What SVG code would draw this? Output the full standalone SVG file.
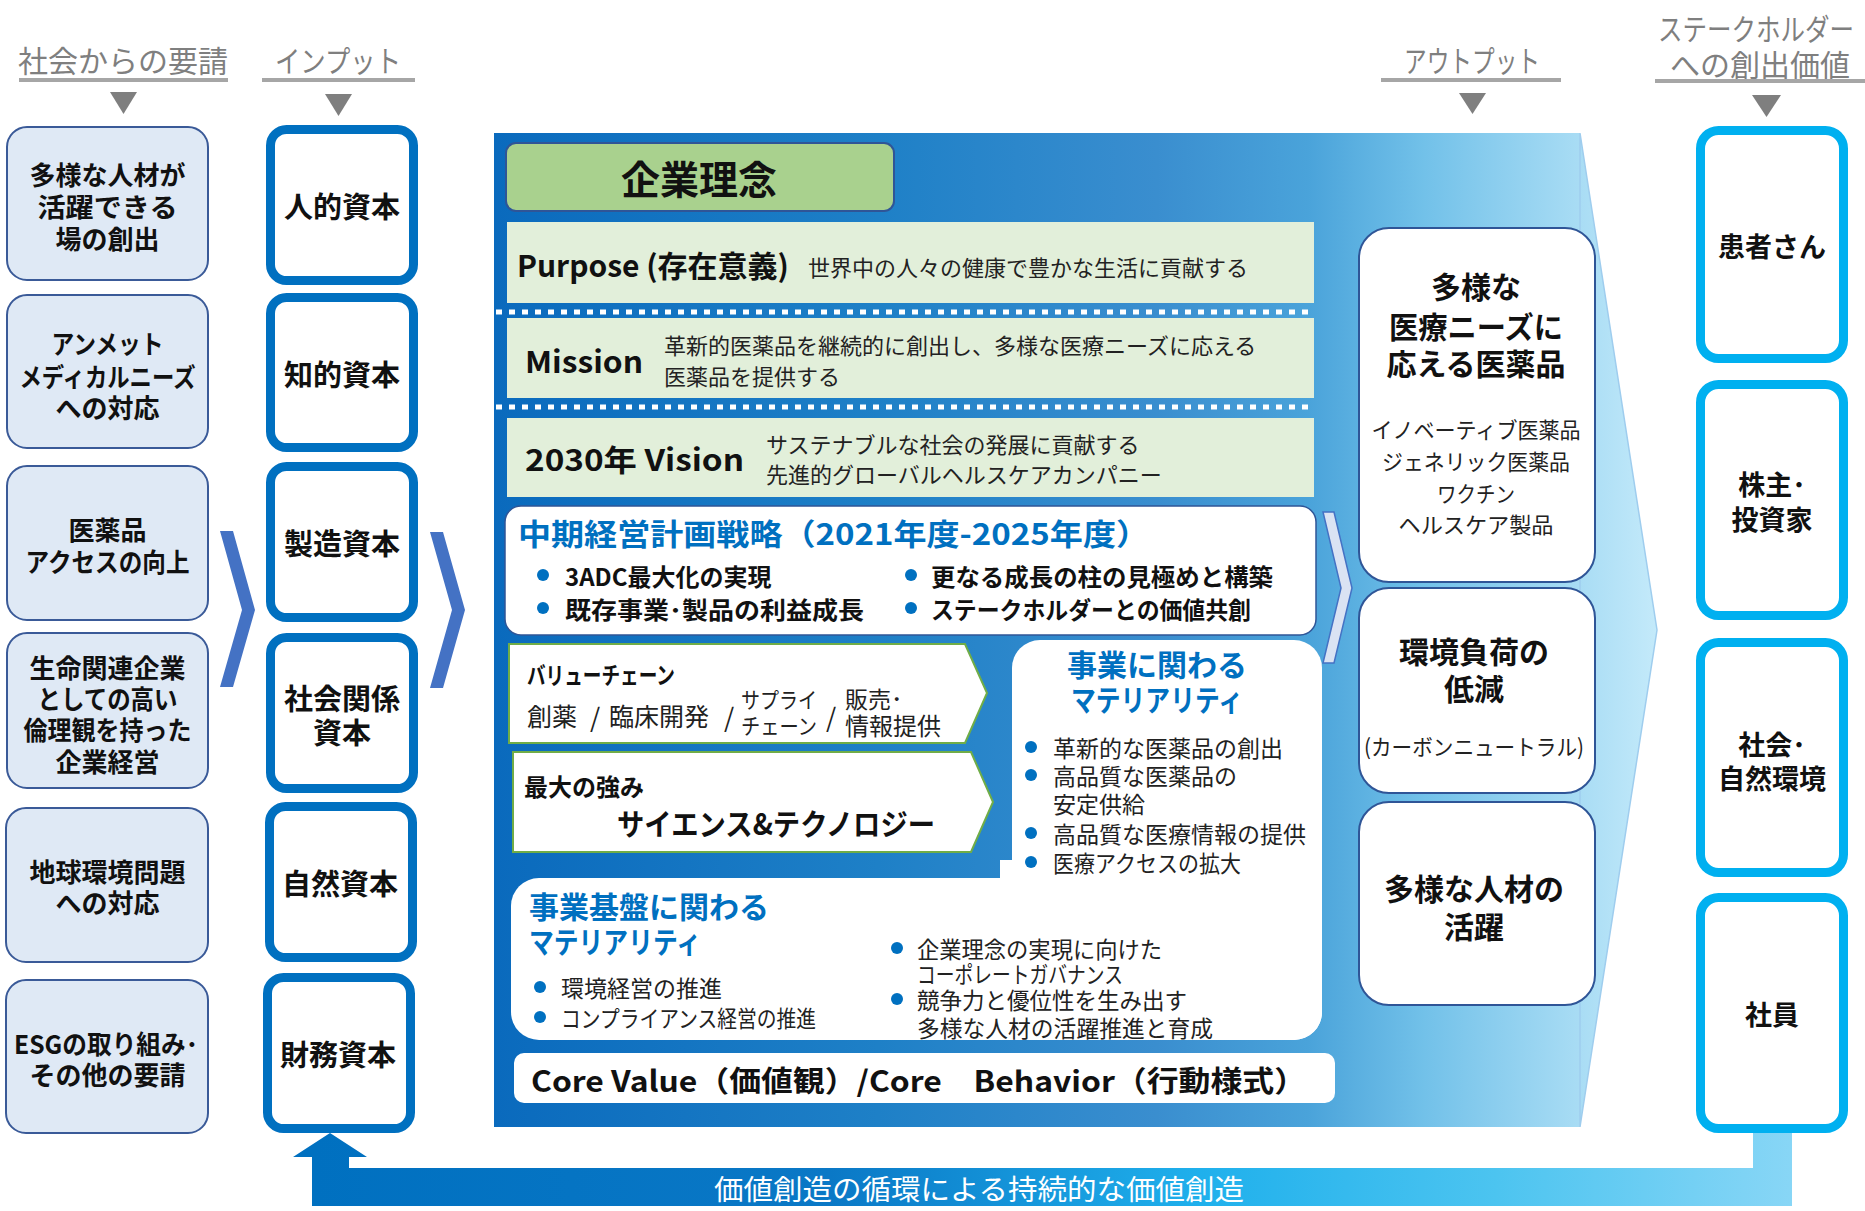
<svg xmlns="http://www.w3.org/2000/svg" width="1865" height="1211" viewBox="0 0 1865 1211">
<defs>
<linearGradient id="mainGrad" gradientUnits="userSpaceOnUse" x1="494" y1="0" x2="1657" y2="0">
<stop offset="0" stop-color="#0a6abd"/>
<stop offset="0.33" stop-color="#1e80c7"/>
<stop offset="0.57" stop-color="#3a8ecf"/>
<stop offset="0.7" stop-color="#4aa3da"/>
<stop offset="0.8" stop-color="#72c1e9"/>
<stop offset="1" stop-color="#c4eafa"/>
</linearGradient>
<linearGradient id="loopGrad" gradientUnits="userSpaceOnUse" x1="312" y1="0" x2="1792" y2="0">
<stop offset="0" stop-color="#0070c0"/>
<stop offset="0.35" stop-color="#0a78c6"/>
<stop offset="0.6" stop-color="#1fb0ec"/>
<stop offset="0.8" stop-color="#4cc4f0"/>
<stop offset="1" stop-color="#88d6f6"/>
</linearGradient>
<style>
text{font-family:"Noto Sans CJK JP","Noto Sans",sans-serif;dominant-baseline:central}
.hdr{font-size:30px;fill:#7f7f7f;text-anchor:middle}
.uline{stroke:#a6a6a6;stroke-width:4}
.tri{fill:#7f7f7f}
.req{fill:#dfe9f5;stroke:#3a5a98;stroke-width:2}
.reqt{font-size:26px;font-weight:bold;fill:#111;text-anchor:middle}
.inp{fill:#fff;stroke:#0070c0;stroke-width:9}
.inpt{font-size:29px;font-weight:bold;fill:#111;text-anchor:middle}
.stk{fill:#fff;stroke:#00b0f0;stroke-width:9}
.stkt{font-size:27px;font-weight:bold;fill:#111;text-anchor:middle}
.out{fill:#fff;stroke:#2f5597;stroke-width:2}
.outt{font-size:30px;font-weight:bold;fill:#111;text-anchor:middle}
.outs{font-size:22px;fill:#222;text-anchor:middle}
.band{fill:#e2efda}
.dots{stroke:#fff;stroke-width:5;stroke-dasharray:6 7}
.lbl{font-size:30px;font-weight:bold;fill:#111}
.desc{font-size:22px;fill:#222}
.blueT{font-size:30px;font-weight:bold;fill:#0070c0}
.bul{fill:#0070c0}
.bt{font-size:24px;font-weight:bold;fill:#111}
.mt{font-size:23px;fill:#222}
.gar{fill:#fff;stroke:#70ad47;stroke-width:2}
.chev{fill:#4472c4}
</style>
</defs>

<!-- headers -->
<g id="headers">
<text class="hdr" x="123" y="59">社会からの要請</text>
<line class="uline" x1="19" y1="80" x2="228" y2="80"/>
<polygon class="tri" points="110,92 137,92 123.5,114"/>
<text class="hdr" x="338" y="59" textLength="126" lengthAdjust="spacingAndGlyphs">インプット</text>
<line class="uline" x1="262" y1="80" x2="415" y2="80"/>
<polygon class="tri" points="325,94 352,94 338.5,116"/>
<text class="hdr" x="1472" y="59" textLength="136" lengthAdjust="spacingAndGlyphs">アウトプット</text>
<line class="uline" x1="1381" y1="80" x2="1561" y2="80"/>
<polygon class="tri" points="1459,93 1486,93 1472.5,114"/>
<text class="hdr" x="1756" y="27" textLength="196" lengthAdjust="spacingAndGlyphs">ステークホルダー</text>
<text class="hdr" x="1760" y="63">への創出価値</text>
<line class="uline" x1="1655" y1="81" x2="1865" y2="81"/>
<polygon class="tri" points="1752,95 1781,95 1766.5,117"/>
</g>

<!-- society requests -->
<g id="req1"><rect class="req" x="7" y="127" width="201" height="153" rx="20"/>
<text class="reqt" x="107.5" y="173">多様な人材が</text><text class="reqt" x="107.5" y="205" textLength="140" lengthAdjust="spacingAndGlyphs">活躍できる</text><text class="reqt" x="107.5" y="237">場の創出</text></g>
<g id="req2"><rect class="req" x="7" y="295" width="201" height="153" rx="20"/>
<text class="reqt" x="107.5" y="342" textLength="112" lengthAdjust="spacingAndGlyphs">アンメット</text><text class="reqt" x="107.5" y="375" textLength="176" lengthAdjust="spacingAndGlyphs">メディカルニーズ</text><text class="reqt" x="107.5" y="406">への対応</text></g>
<g id="req3"><rect class="req" x="7" y="466" width="201" height="154" rx="20"/>
<text class="reqt" x="107.5" y="528">医薬品</text><text class="reqt" x="107.5" y="560" textLength="164" lengthAdjust="spacingAndGlyphs">アクセスの向上</text></g>
<g id="req4"><rect class="req" x="7" y="633" width="201" height="155" rx="20"/>
<text class="reqt" x="107.5" y="666">生命関連企業</text><text class="reqt" x="107.5" y="697" textLength="140" lengthAdjust="spacingAndGlyphs">としての高い</text><text class="reqt" x="107.5" y="728" textLength="168" lengthAdjust="spacingAndGlyphs">倫理観を持った</text><text class="reqt" x="107.5" y="760">企業経営</text></g>
<g id="req5"><rect class="req" x="6" y="808" width="202" height="154" rx="20"/>
<text class="reqt" x="107.5" y="870">地球環境問題</text><text class="reqt" x="107.5" y="901">への対応</text></g>
<g id="req6"><rect class="req" x="6" y="980" width="202" height="153" rx="20"/>
<text class="reqt" x="106" y="1042" textLength="184" lengthAdjust="spacingAndGlyphs">ESGの取り組み･</text><text class="reqt" x="107.5" y="1073">その他の要請</text></g>

<!-- inputs -->
<g id="in1"><rect class="inp" x="270.5" y="129.5" width="143" height="151" rx="16"/><text class="inpt" x="342" y="205">人的資本</text></g>
<g id="in2"><rect class="inp" x="270.5" y="297.5" width="143" height="150" rx="16"/><text class="inpt" x="342" y="373">知的資本</text></g>
<g id="in3"><rect class="inp" x="270.5" y="466.5" width="143" height="151" rx="16"/><text class="inpt" x="342" y="542">製造資本</text></g>
<g id="in4"><rect class="inp" x="270.5" y="637.5" width="143" height="151" rx="16"/><text class="inpt" x="342" y="697">社会関係</text><text class="inpt" x="342" y="731">資本</text></g>
<g id="in5"><rect class="inp" x="269.5" y="806.5" width="143" height="151" rx="16"/><text class="inpt" x="340" y="882">自然資本</text></g>
<g id="in6"><rect class="inp" x="267.5" y="977.5" width="143" height="151" rx="16"/><text class="inpt" x="338" y="1053">財務資本</text></g>

<!-- main business region -->
<g id="business">
<polygon fill="url(#mainGrad)" points="494,133 1580,133 1657,630 1580,1127 494,1127"/>
<polygon fill="none" stroke="#9fcdee" stroke-width="1.5" points="1580,133 1657,630 1580,1127"/>

<g id="philosophy">
<rect x="506" y="143" width="388" height="68" rx="10" fill="#a9d18e" stroke="#2f5597" stroke-width="2"/>
<text x="699" y="177" font-size="39" font-weight="bold" fill="#111" text-anchor="middle">企業理念</text>
</g>
<g id="purpose">
<rect class="band" x="507" y="222" width="807" height="81"/>
<text class="lbl" x="517" y="264" font-size="29">Purpose (存在意義)</text>
<text class="desc" x="808" y="266">世界中の人々の健康で豊かな生活に貢献する</text>
</g>
<line class="dots" x1="496" y1="312" x2="1314" y2="312"/>
<g id="mission">
<rect class="band" x="507" y="318" width="807" height="80"/>
<text class="lbl" x="525" y="360" textLength="118" lengthAdjust="spacingAndGlyphs">Mission</text>
<text class="desc" x="664" y="344">革新的医薬品を継続的に創出し、多様な医療ニーズに応える</text>
<text class="desc" x="664" y="375">医薬品を提供する</text>
</g>
<line class="dots" x1="496" y1="407" x2="1314" y2="407"/>
<g id="vision">
<rect class="band" x="507" y="418" width="807" height="79"/>
<text class="lbl" x="525" y="458" textLength="219" lengthAdjust="spacingAndGlyphs">2030年 Vision</text>
<text class="desc" x="766" y="443">サステナブルな社会の発展に貢献する</text>
<text class="desc" x="766" y="473">先進的グローバルヘルスケアカンパニー</text>
</g>

<g id="midterm">
<rect x="505" y="506" width="811" height="129" rx="16" fill="#fff" stroke="#2f5597" stroke-width="1.5"/>
<text class="blueT" x="518" y="532" textLength="631" lengthAdjust="spacingAndGlyphs">中期経営計画戦略（2021年度-2025年度）</text>
<circle class="bul" cx="543" cy="575" r="6"/><text class="bt" x="565" y="575">3ADC最大化の実現</text>
<circle class="bul" cx="543" cy="608" r="6"/><text class="bt" x="565" y="608" textLength="299" lengthAdjust="spacingAndGlyphs">既存事業･製品の利益成長</text>
<circle class="bul" cx="911" cy="575" r="6"/><text class="bt" x="931" y="575" textLength="342" lengthAdjust="spacingAndGlyphs">更なる成長の柱の見極めと構築</text>
<circle class="bul" cx="911" cy="608" r="6"/><text class="bt" x="931" y="608" textLength="320" lengthAdjust="spacingAndGlyphs">ステークホルダーとの価値共創</text>
</g>

<g id="valuechain">
<polygon class="gar" points="509,644 965,644 987,693 965,743 509,743"/>
<text x="527" y="673" font-size="24" font-weight="bold" fill="#111" textLength="148" lengthAdjust="spacingAndGlyphs">バリューチェーン</text>
<text x="527" y="715" font-size="25" fill="#222">創薬</text>
<text x="590" y="715" font-size="26" fill="#222">/</text>
<text x="609" y="715" font-size="25" fill="#222">臨床開発</text>
<text x="724" y="715" font-size="26" fill="#222">/</text>
<text x="741" y="698" font-size="22" fill="#222" textLength="76" lengthAdjust="spacingAndGlyphs">サプライ</text>
<text x="741" y="724" font-size="22" fill="#222" textLength="76" lengthAdjust="spacingAndGlyphs">チェーン</text>
<text x="826" y="715" font-size="26" fill="#222">/</text>
<text x="845" y="698" font-size="23" fill="#222">販売･</text>
<text x="845" y="724" font-size="24" fill="#222">情報提供</text>
</g>

<g id="strength">
<polygon class="gar" points="513,752 971,752 993,802 971,852 513,852"/>
<text x="524" y="785" font-size="24" font-weight="bold" fill="#111">最大の強み</text>
<text x="617" y="822" font-size="30" font-weight="bold" fill="#111" textLength="318" lengthAdjust="spacingAndGlyphs">サイエンス&amp;テクノロジー</text>
</g>

<g id="materiality">
<rect x="1012" y="640" width="310" height="400" rx="28" fill="#fff"/>
<rect x="511" y="878" width="811" height="162" rx="28" fill="#fff"/>
<rect x="1000" y="860" width="40" height="40" fill="#fff"/>
<text class="blueT" x="1157" y="663" text-anchor="middle">事業に関わる</text>
<text class="blueT" x="1157" y="698" text-anchor="middle" textLength="172" lengthAdjust="spacingAndGlyphs">マテリアリティ</text>
<circle class="bul" cx="1031" cy="747" r="6"/><text class="mt" x="1053" y="747">革新的な医薬品の創出</text>
<circle class="bul" cx="1031" cy="775" r="6"/><text class="mt" x="1053" y="775">高品質な医薬品の</text>
<text class="mt" x="1053" y="803">安定供給</text>
<circle class="bul" cx="1031" cy="833" r="6"/><text class="mt" x="1053" y="833">高品質な医療情報の提供</text>
<circle class="bul" cx="1031" cy="862" r="6"/><text class="mt" x="1053" y="862" textLength="188" lengthAdjust="spacingAndGlyphs">医療アクセスの拡大</text>

<text class="blueT" x="529" y="905">事業基盤に関わる</text>
<text class="blueT" x="529" y="940" textLength="172" lengthAdjust="spacingAndGlyphs">マテリアリティ</text>
<circle class="bul" cx="540" cy="987" r="6"/><text class="mt" x="561" y="987">環境経営の推進</text>
<circle class="bul" cx="540" cy="1017" r="6"/><text class="mt" x="561" y="1017" textLength="255" lengthAdjust="spacingAndGlyphs">コンプライアンス経営の推進</text>
<circle class="bul" cx="897" cy="948" r="6"/><text class="mt" x="917" y="948" textLength="245" lengthAdjust="spacingAndGlyphs">企業理念の実現に向けた</text>
<text class="mt" x="917" y="973" textLength="206" lengthAdjust="spacingAndGlyphs">コーポレートガバナンス</text>
<circle class="bul" cx="897" cy="999" r="6"/><text class="mt" x="917" y="999" textLength="270" lengthAdjust="spacingAndGlyphs">競争力と優位性を生み出す</text>
<text class="mt" x="917" y="1027" textLength="296" lengthAdjust="spacingAndGlyphs">多様な人材の活躍推進と育成</text>
</g>

<g id="corevalue">
<rect x="514" y="1053" width="821" height="50" rx="10" fill="#fff"/>
<text x="531" y="1079" font-size="29" font-weight="bold" fill="#111" textLength="775" lengthAdjust="spacingAndGlyphs">Core Value（価値観）/Core　Behavior（行動様式）</text>
</g>
</g>

<!-- outputs -->
<g id="out1"><rect class="out" x="1359" y="228" width="236" height="354" rx="30"/>
<text class="outt" x="1476" y="285">多様な</text><text class="outt" x="1476" y="325" textLength="174" lengthAdjust="spacingAndGlyphs">医療ニーズに</text><text class="outt" x="1476" y="362">応える医薬品</text>
<text class="outs" x="1476" y="428" textLength="209" lengthAdjust="spacingAndGlyphs">イノベーティブ医薬品</text><text class="outs" x="1476" y="460" textLength="188" lengthAdjust="spacingAndGlyphs">ジェネリック医薬品</text><text class="outs" x="1476" y="492" textLength="78" lengthAdjust="spacingAndGlyphs">ワクチン</text><text class="outs" x="1476" y="523" textLength="155" lengthAdjust="spacingAndGlyphs">ヘルスケア製品</text></g>
<g id="out2"><rect class="out" x="1359" y="588" width="236" height="205" rx="30"/>
<text class="outt" x="1474" y="650">環境負荷の</text><text class="outt" x="1474" y="687">低減</text>
<text class="outs" x="1474" y="745" textLength="220" lengthAdjust="spacingAndGlyphs">(カーボンニュートラル)</text></g>
<g id="out3"><rect class="out" x="1359" y="802" width="236" height="203" rx="30"/>
<text class="outt" x="1474" y="887">多様な人材の</text><text class="outt" x="1474" y="925">活躍</text></g>

<!-- stakeholders -->
<g id="st1"><rect class="stk" x="1700.5" y="130.5" width="143" height="228" rx="18"/><text class="stkt" x="1772" y="245">患者さん</text></g>
<g id="st2"><rect class="stk" x="1700.5" y="384.5" width="143" height="231" rx="18"/><text class="stkt" x="1772" y="483">株主･</text><text class="stkt" x="1772" y="518">投資家</text></g>
<g id="st3"><rect class="stk" x="1700.5" y="642.5" width="143" height="230" rx="18"/><text class="stkt" x="1772" y="743">社会･</text><text class="stkt" x="1772" y="777">自然環境</text></g>
<g id="st4"><rect class="stk" x="1700.5" y="897.5" width="143" height="231" rx="18"/><text class="stkt" x="1772" y="1013">社員</text></g>

<!-- connectors -->
<g id="connectors">
<polygon class="chev" points="220,531 233,531 255,610 233,687 220,687 242,610"/>
<polygon class="chev" points="430,532 443,532 465,610 443,688 430,688 452,610"/>
<polygon points="1323,512 1334,512 1352,588 1334,663 1323,663 1341,588" fill="#dae3f3" stroke="#4472c4" stroke-width="1.5"/>
<path fill="url(#loopGrad)" d="M330,1133 L367,1157 L349,1157 L349,1168 L1753,1168 L1753,1133 L1792,1133 L1792,1206 L312,1206 L312,1157 L293,1157 Z"/>
<text x="979" y="1188" font-size="28" fill="#fff" text-anchor="middle" textLength="530" lengthAdjust="spacingAndGlyphs">価値創造の循環による持続的な価値創造</text>
</g>
</svg>
